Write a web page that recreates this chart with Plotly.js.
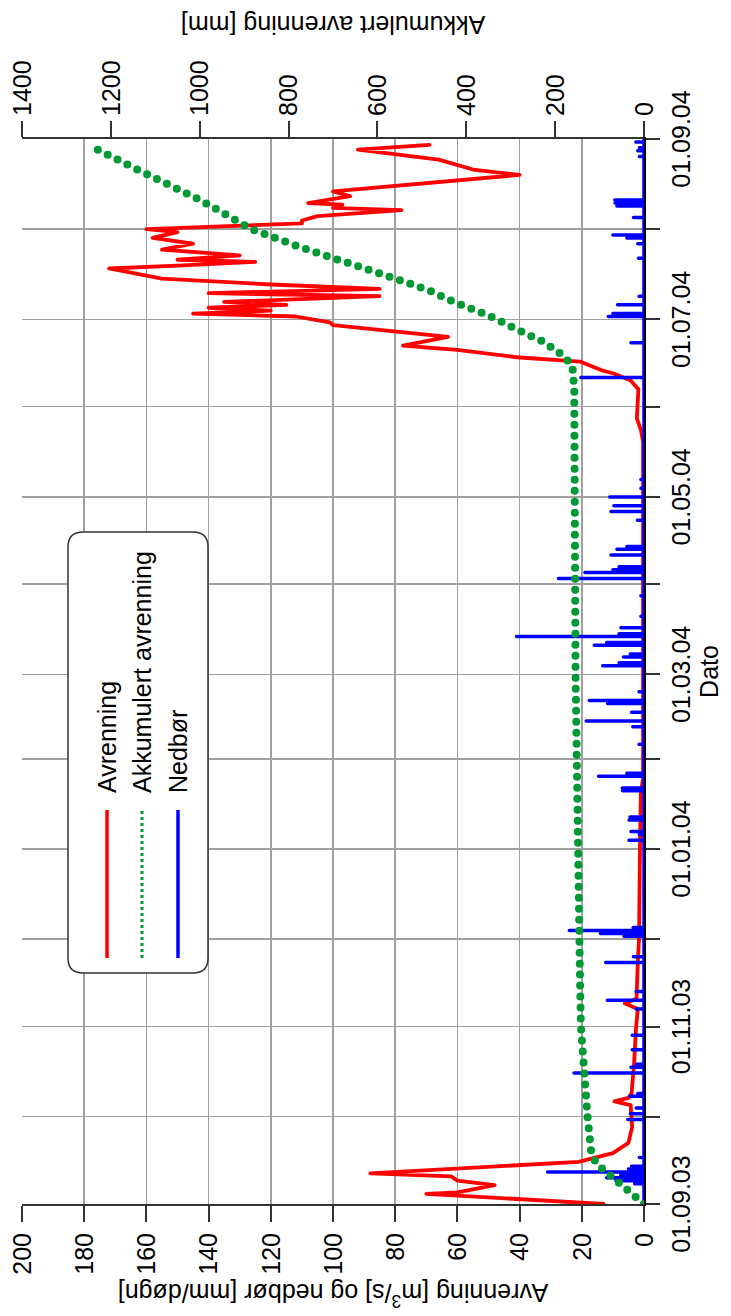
<!DOCTYPE html>
<html><head><meta charset="utf-8">
<script src="https://cdn.plot.ly/plotly-3.0.1.min.js"></script>
<style>
html,body{margin:0;padding:0;width:731px;height:1316px;overflow:hidden;background:#fff;}
#wrap{position:absolute;left:0;top:0;width:1316px;height:731px;transform-origin:0 0;transform:translateY(1316px) rotate(-90deg);}
#chart{width:1316px;height:731px;}
</style></head><body>
<div id="wrap"><div id="chart"></div></div>
<script>
// ---- Avrenning (m3/s) ----
const avrDates = ['2003-09-01','2003-09-04 12:00','2003-09-05','2003-09-07 12:00','2003-09-09','2003-09-10 12:00','2003-09-11 12:00',
 '2003-09-14','2003-09-15 12:00','2003-09-18 12:00','2003-09-22','2003-09-27 12:00','2003-10-05','2003-10-06 06:00','2003-10-07 12:00',
 '2003-10-09','2003-10-19','2003-10-31','2003-11-07','2003-11-09','2003-11-10 12:00','2003-11-23','2003-12-01','2004-01-01','2004-01-21',
 '2004-01-25','2004-05-20','2004-05-24','2004-05-28','2004-06-03','2004-06-07','2004-06-10','2004-06-12 12:00','2004-06-13 12:00',
 '2004-06-16 12:00','2004-06-18','2004-06-20 12:00','2004-06-22','2004-06-25','2004-06-29','2004-06-30',
 '2004-07-02','2004-07-03','2004-07-04','2004-07-05','2004-07-06','2004-07-07','2004-07-09','2004-07-10','2004-07-11 12:00','2004-07-13',
 '2004-07-15','2004-07-18 12:00','2004-07-19 12:00','2004-07-20 18:00','2004-07-21 12:00','2004-07-23','2004-07-25','2004-07-27','2004-07-29','2004-07-31',
 '2004-08-01','2004-08-03','2004-08-04','2004-08-05 12:00','2004-08-07 14:00','2004-08-08 08:00','2004-08-09 10:00','2004-08-10',
 '2004-08-12 08:00','2004-08-14','2004-08-19 16:00','2004-08-21 12:00','2004-08-24 22:00','2004-08-26','2004-08-28 08:00','2004-08-30'];
const avrValues = [13,70,60,48,60,62,88,
 46,21,10,5,3.8,4.3,9.5,5,
 4,3.2,2.6,2,6.2,2.4,2,1.6,1.3,1.0,
 0.3,0.3,1.0,2.3,2.0,1.8,4.3,10,13.6,
 20.6,41,60,77.5,63,100,101,
 112,145,120,140,115,135,85,140,85,120,
 155,172,150,125,150,130,155,145,158,150,
 160,110,110,105,78,100,97,108,
 94.5,100,40,55,66,74,92,69];

// ---- Akkumulert avrenning (mm) ----
const akkDates = ['2003-09-01','2003-09-04','2003-09-07','2003-09-10','2003-09-12 12:00','2003-09-15','2003-09-19','2003-09-23',
 '2003-10-01','2003-10-09','2003-10-18','2003-11-01','2003-11-17','2003-12-02','2004-01-01','2004-02-01','2004-03-01','2004-04-01',
 '2004-05-01','2004-05-30','2004-06-07','2004-06-14 16:00','2004-06-18 10:00','2004-06-20 17:00','2004-06-23 07:00','2004-06-25',
 '2004-06-29','2004-07-02 12:00','2004-07-07','2004-07-10 17:00','2004-07-15','2004-07-20','2004-07-25 10:00','2004-08-01',
 '2004-08-11','2004-08-21','2004-08-30'];
const akkValues = [0,22,44,70,90,108,119,123,
 127,131,136,142,144,146,150,152,154,155,
 155,155,157,161,180,202,226,251,
 300,352,428,480,559,664,766,884,
 998,1134,1251];

// ---- Nedbør (mm/døgn), rain days only ----
const rainDates = ['2003-09-08','2003-09-09','2003-09-10','2003-09-11','2003-09-12','2003-09-13','2003-09-14','2003-09-17',
 '2003-09-30','2003-10-02','2003-10-04','2003-10-08','2003-10-09','2003-10-16','2003-10-18','2003-10-19','2003-10-24','2003-10-29',
 '2003-11-07','2003-11-10','2003-11-13','2003-11-23','2003-11-25','2003-12-02','2003-12-03','2003-12-04','2003-12-05',
 '2004-01-04','2004-01-06','2004-01-07','2004-01-11','2004-01-12','2004-01-21','2004-01-22','2004-01-26','2004-01-27',
 '2004-02-06','2004-02-12','2004-02-14','2004-02-17','2004-02-20','2004-02-21','2004-02-24',
 '2004-03-04','2004-03-05','2004-03-07','2004-03-08','2004-03-11','2004-03-12','2004-03-14','2004-03-15','2004-03-17','2004-03-21','2004-03-28',
 '2004-04-03','2004-04-05','2004-04-06','2004-04-07','2004-04-11','2004-04-13','2004-04-14','2004-04-23','2004-04-26','2004-04-28','2004-05-01',
 '2004-05-04','2004-05-07',
 '2004-06-11','2004-06-23','2004-07-02','2004-07-03','2004-07-06','2004-07-09','2004-07-22','2004-07-27','2004-07-29','2004-07-30',
 '2004-08-05','2004-08-09','2004-08-10','2004-08-11','2004-08-26','2004-08-28','2004-08-29','2004-08-31'];
const rainValues = [3,9,12,7.5,31,5,4,1.5,
 5.2,4.4,2.5,4.5,2,22.5,4.2,2.5,3.8,3.8,
 2.5,11.8,2.5,12.3,3.4,6.4,14,24,3.5,
 4.8,1.5,4.2,4.8,4.5,6.9,7,14.6,5.5,
 1.6,3.6,18.6,4,11.7,17.6,1.6,
 13.3,8,6.6,4.4,16,12,41,8,7.4,1,1,
 27.5,19,10,8,10.6,8.7,5.5,2.1,10.6,9.7,11,
 1,1,
 20.3,4.2,11.5,10,8.5,1.6,1.8,2,5.5,10,
 3.4,8.7,9.3,9.4,1.5,2,1.5,2.6];

// precipitation drawn as a daily spike line (days without rain stay at 0)
const rainX = ['2003-09-01'], rainY = [0];
rainDates.forEach((d,i)=>{ rainX.push(d, d, d); rainY.push(0, rainValues[i], 0); });
rainX.push('2004-09-01'); rainY.push(0);

const FONT = 'Arial, "Liberation Sans", Helvetica, sans-serif';
const data = [
  {x: avrDates, y: avrValues, type:'scatter', mode:'lines', name:'Avrenning',
   line:{color:'#ff0000', width:3.8}, yaxis:'y'},
  {x: rainX, y: rainY, type:'scatter', mode:'lines', name:'Nedbør',
   line:{color:'#0000ff', width:3.5}, yaxis:'y'},
  {x: akkDates, y: akkValues, type:'scatter', mode:'lines', name:'Akkumulert avrenning',
   line:{color:'#009933', width:8, dash:'0px,11px'}, yaxis:'y2'}
];

// legend geometry (plot-area pixels -> paper)
const L = 112, T = 22, PW = 1065, PH = 622;
const px = x => (x - L) / PW;
const py = y => (T + PH - y) / PH;
const bx0 = px(343), bx1 = px(784), by0 = py(208), by1 = py(68);
const rx = 15 / PW, ry = 15 / PH;
const boxPath = `M ${bx0+rx},${by1} L ${bx1-rx},${by1} Q ${bx1},${by1} ${bx1},${by1-ry} L ${bx1},${by0+ry} Q ${bx1},${by0} ${bx1-rx},${by0} L ${bx0+rx},${by0} Q ${bx0},${by0} ${bx0},${by0+ry} L ${bx0},${by1-ry} Q ${bx0},${by1} ${bx0+rx},${by1} Z`;
const legNames = ['Avrenning','Akkumulert avrenning','Nedbør'];
const legColors = ['#ff0000','#009933','#0000ff'];
const legDash = ['solid','dot','solid'];
const legRows = [107,142,178];
const shapes = [{type:'path', xref:'paper', yref:'paper', path: boxPath, fillcolor:'#ffffff', line:{color:'#333', width:1.5}, layer:'above'}];
const annotations = [];
legNames.forEach((n,i)=>{
  shapes.push({type:'line', xref:'paper', yref:'paper', x0:px(358), x1:px(506), y0:py(legRows[i]), y1:py(legRows[i]),
    line:{color:legColors[i], width:legDash[i]==='dot'?3:3.5, dash:legDash[i]}, layer:'above'});
  annotations.push({xref:'paper', yref:'paper', x:px(521), y:py(legRows[i]), xanchor:'left', yanchor:'middle',
    text:n, showarrow:false, font:{family:FONT, size:25, color:'#000'}});
});

const axCommon = {ticks:'outside', tickwidth:2, tickcolor:'#333', linecolor:'#333', linewidth:2, showline:true, zeroline:false,
  tickfont:{family:FONT, size:25, color:'#000'}};
const layout = {
  width:1316, height:731,
  margin:{l:L, r:139, t:T, b:87},
  paper_bgcolor:'#fff', plot_bgcolor:'#fff',
  font:{family:FONT, size:25, color:'#000'},
  showlegend:false,
  xaxis: Object.assign({}, axCommon, {
    type:'date', range:['2003-09-01','2004-09-01'], tick0:'2003-09-01', dtick:'M2', tickformat:'%d.%m.%y',
    ticklen:14, showgrid:true, gridcolor:'#a0a0a0', gridwidth:1.5, linecolor:'#000',
    minor:{tick0:'2003-09-01', dtick:'M1', ticks:'outside', ticklen:14, tickwidth:2, tickcolor:'#333', showgrid:true, gridcolor:'#a0a0a0', gridwidth:1.5},
    title:{text:'Dato', font:{family:FONT, size:25}, standoff:2}
  }),
  yaxis: Object.assign({}, axCommon, {
    range:[0,200], dtick:20, ticklen:16, showgrid:true, gridcolor:'#a0a0a0', gridwidth:1.5, ticklabelstandoff:6,
    title:{text:'Avrenning [m<sup>3</sup>/s] og nedbør [mm/døgn]', font:{family:FONT, size:25}, standoff:2}
  }),
  yaxis2: Object.assign({}, axCommon, {
    overlaying:'y', side:'right', range:[0,1400], dtick:200, ticklen:16, showgrid:false,
    title:{text:'Akkumulert avrenning [mm]', font:{family:FONT, size:25}, standoff:28}
  }),
  shapes: shapes,
  annotations: annotations
};

Plotly.newPlot('chart', data, layout, {staticPlot:true, displayModeBar:false}).then(gd=>{
  gd.querySelectorAll('path.js-line').forEach(p=>{ p.style.strokeLinecap='round'; p.style.strokeLinejoin='round'; });
});
</script></body></html>
